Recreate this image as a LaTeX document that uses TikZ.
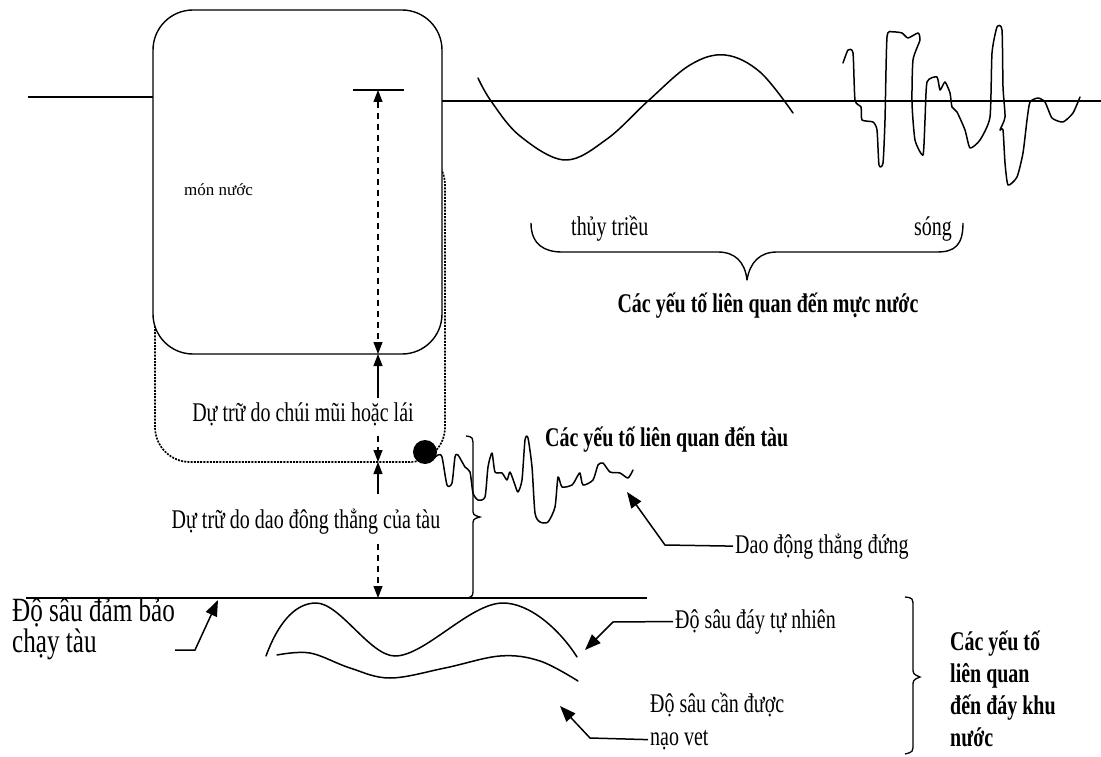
\documentclass[tikz,border=0pt]{standalone}
\usepackage{fontspec}
\setmainfont{Liberation Serif}[FakeStretch=0.74]
\newfontfamily\plainserif{Liberation Serif}
\usetikzlibrary{arrows.meta}
\begin{document}
\begin{tikzpicture}[x=1pt,y=-1pt,
  ln/.style={line width=1.4pt, line join=round},
  wave/.style={line width=1.5pt, line cap=round, line join=round},
  dimdash/.style={dash pattern=on 6pt off 5pt},
  dots/.style={line width=1.7pt, dash pattern=on 2pt off 1.2pt},
  dtip/.tip={Triangle[length=12pt,width=9pt]},
  ptip/.tip={Triangle[length=16pt,width=12pt]},
  ptr/.style={line width=1.5pt, -ptip},
  lbl/.style={font=\fontsize{27}{30}\selectfont, inner sep=2pt},
  blbl/.style={font=\fontsize{27}{30}\selectfont\bfseries, inner sep=2pt},
  biglbl/.style={font=\fontsize{34}{36}\selectfont, inner sep=2pt},
  smalllbl/.style={font=\plainserif\fontsize{17}{19}\selectfont, inner sep=1pt}
]
\useasboundingbox (0,0) rectangle (1101,757);

% water level lines
\coordinate (wlL0) at (28,97);
\coordinate (wlL1) at (153,97);
\coordinate (wlR0) at (442,101);
\coordinate (wlR1) at (1101,101);
\draw[ln] (wlL0) -- (wlL1);
\draw[ln] (wlR0) -- (wlR1);

% dotted (trimmed) hull and solid hull
\draw[dots, rounded corners=35pt] (155,150) rectangle (445,462);
\draw[ln, fill=white, rounded corners=40pt] (153,10) rectangle (442,354);
\node[smalllbl, anchor=base west] (draft) at (183,196) {món nước};

% dimension line
\coordinate (dTop) at (378,90);
\coordinate (dKeel) at (378,354);
\coordinate (dDot) at (378,462);
\coordinate (dSafe) at (378,598);
\draw[ln] (353,90) -- (404,90);
\node[lbl, anchor=base] (lblTrim) at (303,421) {Dự trữ do chúi mũi hoặc lái};
\node[lbl, anchor=base] (lblHeave) at (306,528) {Dự trữ do dao đông thẳng của tàu};
\draw[line width=1.2pt, dimdash, dtip-dtip] (dTop) -- (dKeel);
\draw[line width=1.2pt, dtip-] (dKeel) -- ([yshift=2pt]lblTrim.north -| dKeel);
\draw[line width=1.2pt, dimdash, -dtip] ([yshift=-8pt]lblTrim.south -| dKeel) -- (dDot);
\draw[line width=1.2pt, dtip-] (dDot) -- ([yshift=12pt]lblHeave.north -| dDot);
\draw[line width=1.2pt, dimdash, -dtip] ([yshift=-8pt]lblHeave.south -| dDot) -- (dSafe);

% tide wave
\draw[wave] plot[smooth, tension=0.6] coordinates {(478,78) (491,101) (520,136) (565,160) (607,139) (648,101) (690,65) (725,55) (760,72) (793,113)};

% wind waves
\draw[wave] plot[smooth, tension=0.35] coordinates {
(843,63) (848,50) (853,53) (855,100) (861,107) (862,120) (873,122) (877,130)
(879,165) (883,163) (885,120) (887,37) (893,32) (902,33) (908,38) (918,33)
(920,40) (913,60) (912,103) (915,140) (923,155) (925,120) (927,82) (937,77)
(940,90) (945,82) (950,93) (952,107) (957,112) (965,130) (970,148) (980,140)
(990,117) (992,53) (997,27) (1002,30) (1003,87) (1005,117) (1000,130) (1003,130)
(1005,163) (1008,185) (1017,177) (1023,153) (1027,120) (1030,102) (1038,98)
(1045,102) (1052,118) (1063,122) (1073,113) (1080,97)};

% horizontal brace under waves
\draw[ln] (531,223) .. controls (531,245) and (545,252) .. (562,252) -- (718,252)
  .. controls (735,252) and (745,262) .. (747,280)
  .. controls (750,262) and (760,252) .. (777,252) -- (937,252)
  .. controls (955,252) and (963,245) .. (963,223);
\node[lbl, anchor=base west] (tide) at (569,236) {thủy triều};
\node[lbl, anchor=base west] (song) at (912,236) {sóng};
\node[blbl, anchor=base] (waterTitle) at (768,312) {Các yếu tố liên quan đến mực nước};

% ship heave
\node[circle, fill=black, minimum width=21pt, minimum height=24pt, inner sep=0pt] (dot) at (425,452) {};
\draw[wave] plot[smooth, tension=0.4] coordinates {
(432,460) (438,455) (442,457) (447,485) (452,483) (455,457) (458,455) (465,467)
(470,472) (473,493) (478,500) (485,497) (488,467) (492,453) (495,472) (502,473)
(507,480) (510,472) (515,485) (518,492) (522,480) (525,440) (528,438) (532,467)
(535,513) (540,522) (548,522) (555,507) (558,477) (562,487) (572,485) (577,477)
(580,473) (583,485) (593,480) (598,465) (603,463) (610,472) (620,473) (628,478) (633,470)};
\node[blbl, anchor=base west] (shipTitle) at (543,446) {Các yếu tố liên quan đến tàu};

% vertical brace near ship
\draw[line width=1.3pt] (466,436) .. controls (473,437) .. (473,448) -- (473,508)
  .. controls (473,515) .. (480,517) .. controls (473,519) .. (473,526) -- (473,588)
  .. controls (473,596) .. (468,598);

% heave pointer
\node[lbl, anchor=base west] (lblDao) at (733,553) {Dao động thẳng đứng};
\coordinate (daoKnee) at (665,545);
\coordinate (daoTip) at (627,492);
\draw[ptr] (lblDao.west) -- (daoKnee) -- (daoTip);

% safe depth line
\coordinate (sl0) at (26,598);
\coordinate (sl1) at (647,598);
\draw[ln] (sl0) -- (sl1);
\node[biglbl, anchor=base west] (safe1) at (10,621) {Độ sâu đảm bảo};
\node[biglbl, anchor=base west] (safe2) at (10,652) {chạy tàu};
\coordinate (safeTail) at (175,650);
\coordinate (safeKnee) at (195,650);
\coordinate (safeTip) at (218,600);
\draw[ptr] (safeTail) -- (safeKnee) -- (safeTip);

% bottom curves
\draw[wave] (266,656) .. controls (280,618) and (298,603) .. (316,603)
  .. controls (340,603) and (370,656) .. (395,656)
  .. controls (425,656) and (470,603) .. (503,603)
  .. controls (530,603) and (560,630) .. (577,657);
\draw[wave] plot[smooth, tension=0.6] coordinates {(277,655) (310,653) (350,668) (390,678) (445,668) (500,656) (540,661) (578,681)};

\node[lbl, anchor=base west] (lblNat) at (673,628) {Độ sâu đáy tự nhiên};
\coordinate (natKnee) at (613,622);
\coordinate (natTip) at (585,650);
\draw[ptr] (lblNat.west) -- (natKnee) -- (natTip);

\node[lbl, anchor=base west] (dred1) at (648,712) {Độ sâu cần được};
\node[lbl, anchor=base west] (dred2) at (648,745) {nạo vet};
\coordinate (dredKnee) at (590,738);
\coordinate (dredTip) at (560,706);
\draw[ptr] (dred2.west) -- (dredKnee) -- (dredTip);

% right brace and bottom factors
\draw[line width=1.3pt] (905,597) .. controls (913,598) .. (913,608) -- (913,667)
  .. controls (913,674) .. (920,677) .. controls (913,680) .. (913,687) -- (913,743)
  .. controls (913,752) .. (905,754);
\node[blbl, anchor=base west] (bf1) at (948,650) {Các yếu tố};
\node[blbl, anchor=base west] (bf2) at (948,682) {liên quan};
\node[blbl, anchor=base west] (bf3) at (948,714) {đến đáy khu};
\node[blbl, anchor=base west] (bf4) at (948,746) {nước};
\end{tikzpicture}
\end{document}
